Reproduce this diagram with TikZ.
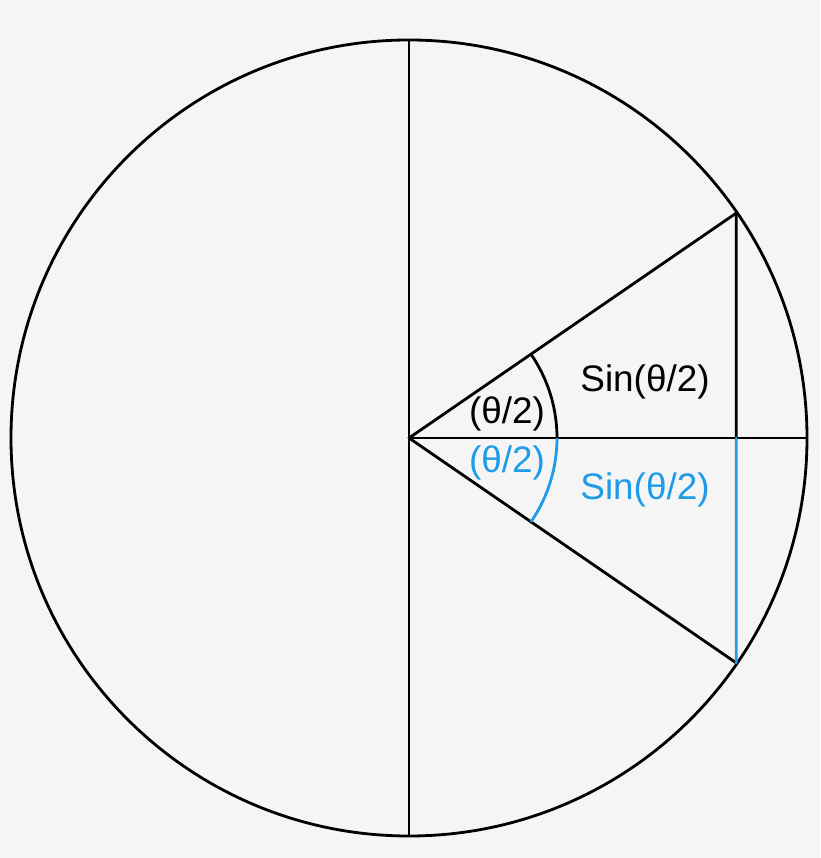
\documentclass[tikz,border=0pt]{standalone}
\usepackage{fontspec}
\setmainfont{Liberation Sans}
\usepackage{tkz-euclide}
\definecolor{bg}{HTML}{F5F5F5}
\definecolor{skyblue}{HTML}{1E9BE9}
\tikzset{>=stealth, thick line/.style={line width=1.6pt, color=black}, lbl/.style={font=\fontsize{21}{25}\selectfont}}

\begin{document}
\begin{tikzpicture}
    \fill[bg] (-8.18,-8.4) rectangle (8.22,8.76);
    \useasboundingbox (-8.18,-8.4) rectangle (8.22,8.76);
    \tkzDefPoints{0/0/O, 0/7.94/T, 0/-7.94/U, 7.96/0/R, 6.544/0/H, 2.96/0/M}
    \tkzDefPoint(34.5:7.94){P}
    \tkzDefPoint(-34.5:7.94){Q}
    \tkzDrawCircle[thick line](O,R)
    \tkzDrawSegments[thick line](T,U O,R O,P O,Q P,H)
    \tkzDrawSegment[thick line, skyblue](H,Q)
    \draw[thick line] (M) arc (0:34.5:2.96);
    \draw[thick line, skyblue] (M) arc (0:-34.5:2.96);
    \node[lbl] (angA) at (1.96,0.48) {(θ/2)};
    \node[lbl, skyblue] (angB) at (1.96,-0.5) {(θ/2)};
    \node[lbl] (sinA) at (4.72,1.12) {Sin(θ/2)};
    \node[lbl, skyblue] (sinB) at (4.72,-1.04) {Sin(θ/2)};
    \end{tikzpicture}
\end{document}
